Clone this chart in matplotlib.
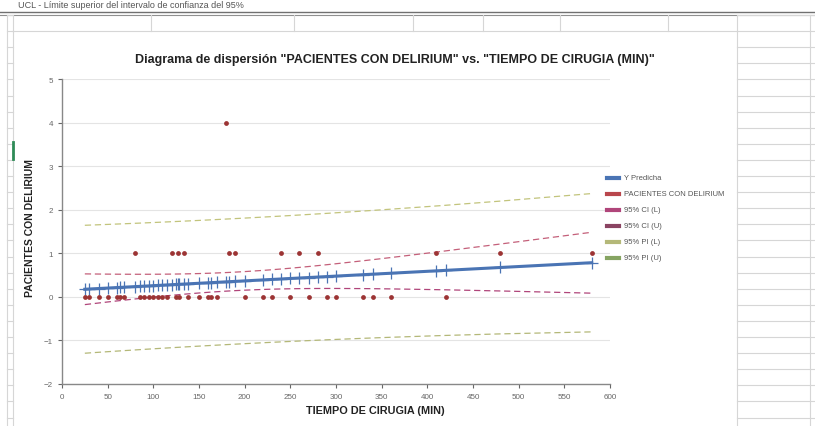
import matplotlib
matplotlib.use('Agg')
import matplotlib.pyplot as plt
import numpy as np
from matplotlib.lines import Line2D

plt.rcParams['font.family'] = ['Liberation Sans', 'DejaVu Sans']

W, H = 815, 427

# observaciones: tiempo de cirugia (min) por valor de pacientes con delirium
tiempo_cero = [25, 30, 40, 50, 60, 63, 68, 85, 90, 95, 100, 105, 110, 115, 125, 128,
               138, 150, 160, 163, 170, 200, 220, 230, 250, 270, 290, 300, 330, 340, 360, 420]
tiempo_uno = [80, 120, 127, 134, 183, 189, 240, 260, 280, 410, 480, 580]
tiempo_cuatro = [180]

x_ticks = [0, 50, 100, 150, 200, 250, 300, 350, 400, 450, 500, 550, 600]
y_ticks = [-2, -1, 0, 1, 2, 3, 4, 5]
t_95 = 2.017  # t de Student, 43 gl

etiquetas = ['Y Predicha', 'PACIENTES CON DELIRIUM', '95% CI (L)', '95% CI (U)',
             '95% PI (L)', '95% PI (U)']
colores = ['#4a74b4', '#b9464c', '#b0457a', '#8a4462', '#b4b878', '#86a462']

x = np.array(tiempo_cero + tiempo_uno + tiempo_cuatro, dtype=float)
y = np.array([0] * len(tiempo_cero) + [1] * len(tiempo_uno) + [4] * len(tiempo_cuatro), dtype=float)

# regresion lineal y bandas
n = len(x)
b, a = np.polyfit(x, y, 1)
xu = np.unique(x)
pred = a + b * xu
res = y - (a + b * x)
s = np.sqrt(np.sum(res ** 2) / (n - 2))
sxx = np.sum((x - x.mean()) ** 2)
h = 1.0 / n + (xu - x.mean()) ** 2 / sxx
ci = t_95 * s * np.sqrt(h)
pi = t_95 * s * np.sqrt(1 + h)


def fx(px):
    return px / W


def fy(py):
    return 1 - py / H


fig = plt.figure(figsize=(W / 100, H / 100), dpi=100)
fig.patch.set_facecolor('white')

# fondo de hoja de calculo
def linea(x0, y0, x1, y1, color='#d6d6d6', lw=0.8):
    fig.add_artist(Line2D([fx(x0), fx(x1)], [fy(y0), fy(y1)], transform=fig.transFigure,
                          color=color, lw=lw, zorder=0))

linea(0, 13, W, 13, '#707070', 1.0)
linea(0, 15.5, W, 15.5, '#909090', 0.8)
linea(12, 32, 737, 32)
for vx in [151, 294, 413, 483, 560, 668]:
    linea(vx, 16, vx, 32)
for vx in [7, 13, 737, 810]:
    linea(vx, 16, vx, H)
for k in range(26):
    ry = 16 + 16.1 * k
    linea(737, ry, W, ry)
    linea(7, ry, 13, ry)
linea(12.5, 143, 12.5, 160, '#2e8b57', 2.0)

fig.text(fx(18), fy(8), 'UCL - Límite superior del intervalo de confianza del 95%',
         fontsize=6.5, color='#555555', va='baseline')

ax = fig.add_axes([fx(62), fy(385), (610 - 62) / W, (385 - 80) / H])

ax.scatter(x, y, s=12, color='#9c3434', zorder=4, linewidths=0)
ax.plot(xu, pred, color=colores[0], lw=2.2, marker='+', ms=9, mew=0.9, zorder=3)
ax.plot(xu, pred - ci, color=colores[2], lw=0.9, dashes=(5, 3), zorder=2)
ax.plot(xu, pred + ci, color='#c4607a', lw=0.9, dashes=(5, 3), zorder=2)
ax.plot(xu, pred - pi, color=colores[4], lw=0.9, dashes=(5, 3), zorder=2)
ax.plot(xu, pred + pi, color='#c2c47c', lw=0.9, dashes=(5, 3), zorder=2)

ax.set_xlim(0, 600)
ax.set_ylim(-2, 5)
ax.set_xticks(x_ticks)
ax.set_yticks(y_ticks)
ax.tick_params(labelsize=5.8, colors='#666666', length=3, width=0.8)
ax.yaxis.grid(True, color='#e4e4e4', lw=0.8)
ax.set_axisbelow(True)
for side in ['top', 'right']:
    ax.spines[side].set_visible(False)
for side in ['left', 'bottom']:
    ax.spines[side].set_color('#888888')
    ax.spines[side].set_linewidth(1.0)

fig.text(fx(395), fy(60), 'Diagrama de dispersión "PACIENTES CON DELIRIUM" vs. "TIEMPO DE CIRUGIA (MIN)"',
         fontsize=9, fontweight='bold', color='#222222', ha='center', va='center')
fig.text(fx(375), fy(411), 'TIEMPO DE CIRUGIA (MIN)', fontsize=7.8, fontweight='bold',
         color='#222222', ha='center', va='center')
fig.text(fx(30), fy(228), 'PACIENTES CON DELIRIUM', fontsize=7.5, fontweight='bold',
         color='#222222', ha='center', va='center', rotation=90)

# leyenda
for i, (lab, c) in enumerate(zip(etiquetas, colores)):
    ly = 179 + 16 * i
    fig.add_artist(Line2D([fx(607), fx(619)], [fy(ly), fy(ly)], transform=fig.transFigure,
                          color=c, lw=3))
    fig.text(fx(624), fy(ly), lab, fontsize=5.5, color='#555555', va='center')

fig.savefig('out.png', dpi=100)
